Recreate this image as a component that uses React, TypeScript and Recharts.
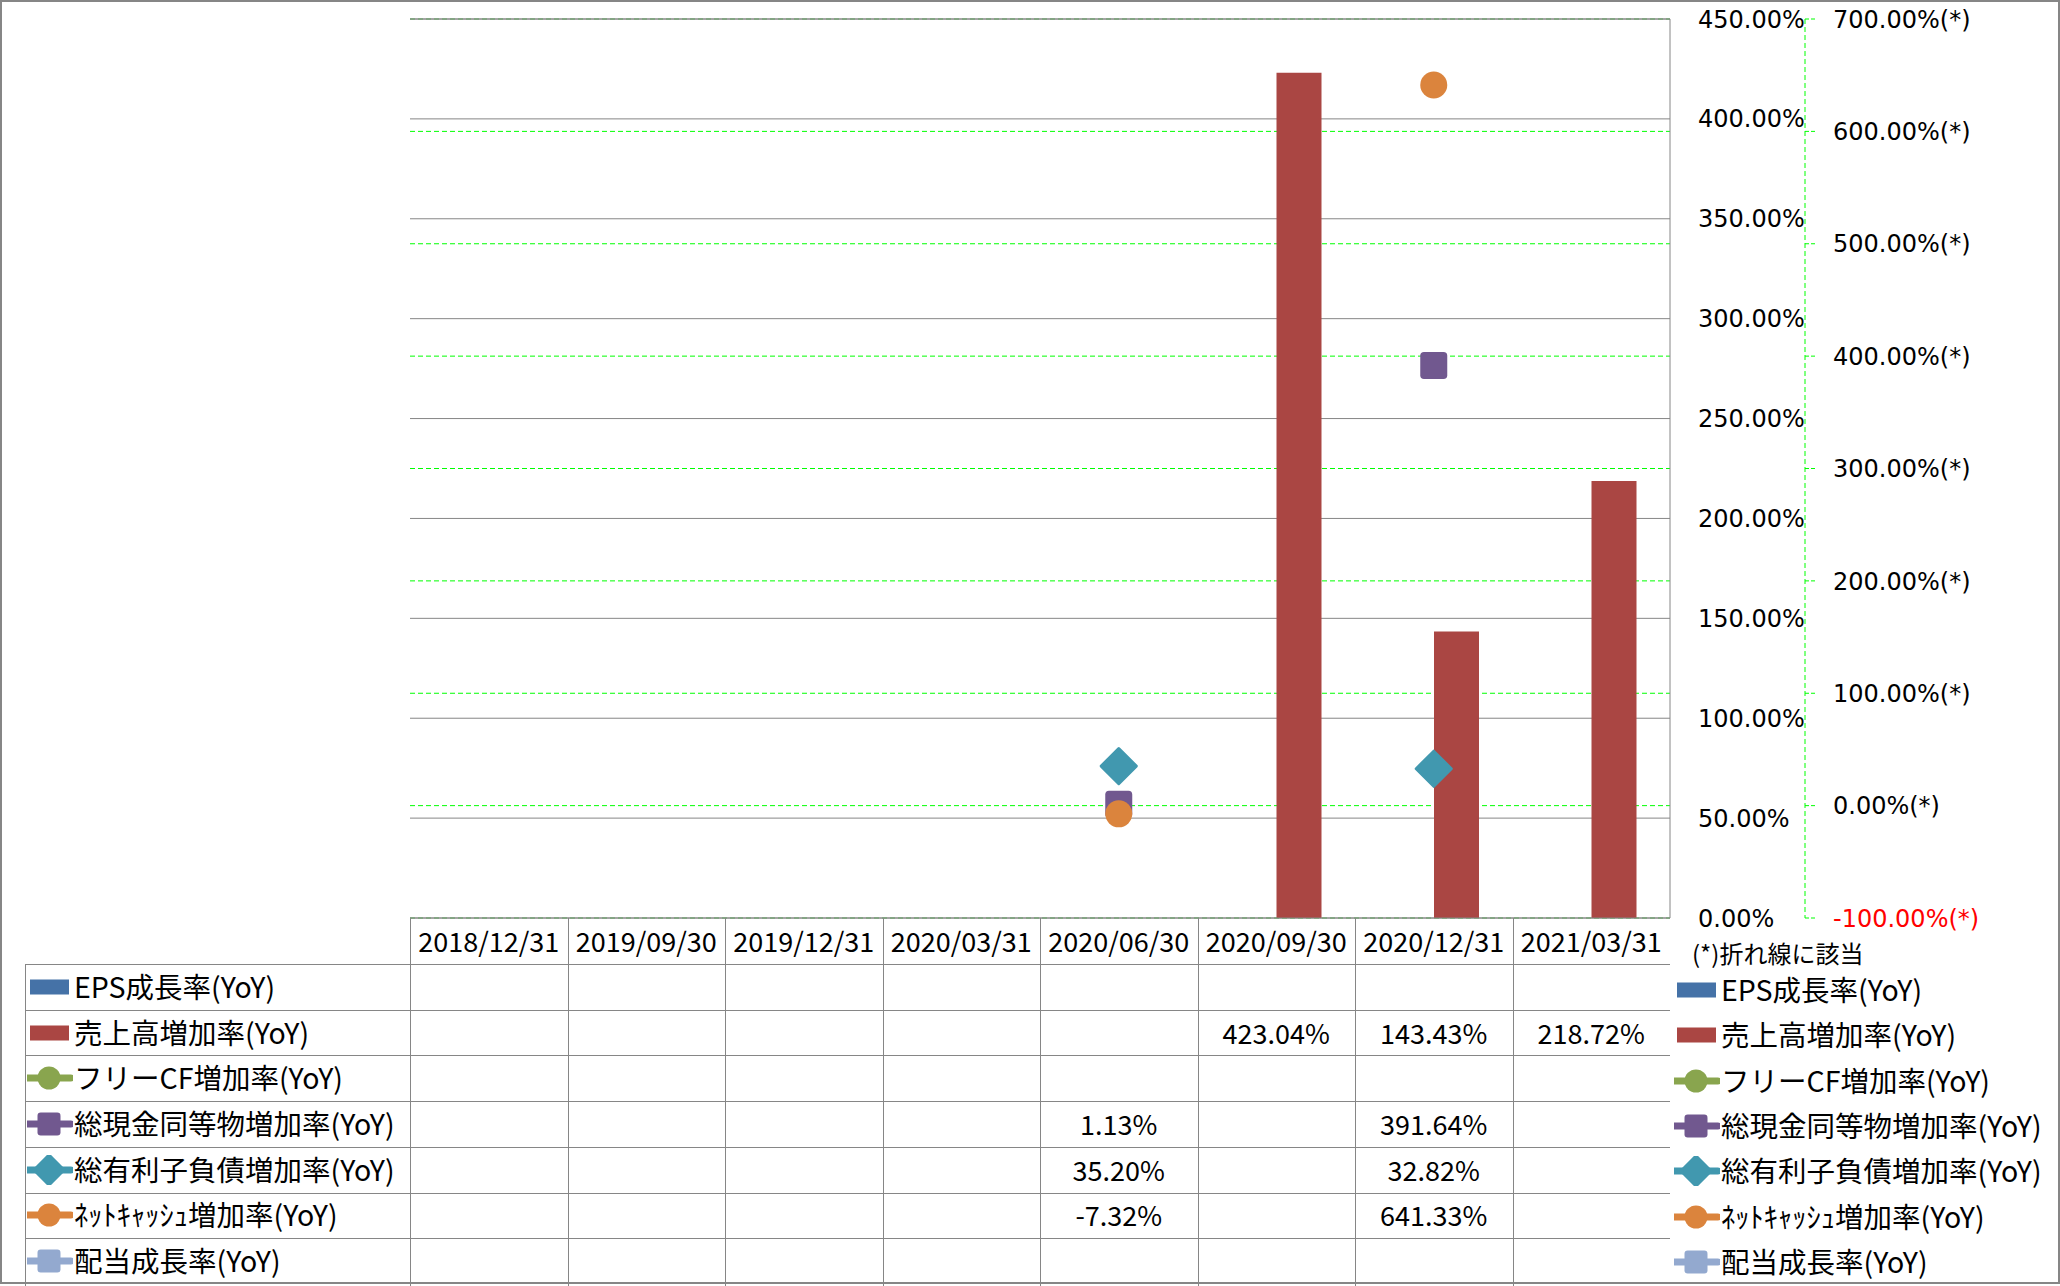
import React from "react";
import { ComposedChart, Bar, Line, XAxis, YAxis, CartesianGrid, ReferenceLine } from "recharts";

const dates = [
  "2018/12/31",
  "2019/09/30",
  "2019/12/31",
  "2020/03/31",
  "2020/06/30",
  "2020/09/30",
  "2020/12/31",
  "2021/03/31",
];

// YoY growth rates (%), null = no data
const epsGrowth = [null, null, null, null, null, null, null, null];
const salesGrowth = [null, null, null, null, null, 423.04, 143.43, 218.72];
const fcfGrowth = [null, null, null, null, null, null, null, null];
const cashGrowth = [null, null, null, null, 1.13, null, 391.64, null];
const debtGrowth = [null, null, null, null, 35.2, null, 32.82, null];
const netCashGrowth = [null, null, null, null, -7.32, null, 641.33, null];
const dividendGrowth = [null, null, null, null, null, null, null, null];

const leftTicks = [0, 50, 100, 150, 200, 250, 300, 350, 400, 450];
const rightTicks = [-100, 0, 100, 200, 300, 400, 500, 600, 700];

type Shape = "bar" | "circle" | "square" | "diamond";

const series: { key: string; name: string; color: string; shape: Shape; values: (number | null)[] }[] = [
  { key: "eps", name: "EPS成長率(YoY)", color: "#4572A7", shape: "bar", values: epsGrowth },
  { key: "sales", name: "売上高増加率(YoY)", color: "#AA4643", shape: "bar", values: salesGrowth },
  { key: "fcf", name: "フリーCF増加率(YoY)", color: "#89A54E", shape: "circle", values: fcfGrowth },
  { key: "cash", name: "総現金同等物増加率(YoY)", color: "#71588F", shape: "square", values: cashGrowth },
  { key: "debt", name: "総有利子負債増加率(YoY)", color: "#4198AF", shape: "diamond", values: debtGrowth },
  { key: "netcash", name: "ﾈｯﾄｷｬｯｼｭ増加率(YoY)", color: "#DB843D", shape: "circle", values: netCashGrowth },
  { key: "div", name: "配当成長率(YoY)", color: "#93A9CF", shape: "square", values: dividendGrowth },
];

const data = dates.map((date, i) => {
  const row: Record<string, any> = { date };
  series.forEach((s) => (row[s.key] = s.values[i]));
  return row;
});

const W = 2060;
const H = 1286;
const PLOT_L = 410;
const PLOT_R = 1670;
const PLOT_T = 19;
const PLOT_B = 918;
const COL_W = (PLOT_R - PLOT_L) / dates.length;
const HEAD_B = 964;
const ROW_H = 45.7;
const GRID = "#868686";
const GREEN = "#00FF00";
const AXIS_FONT = "'DejaVu Sans', sans-serif";
const TABLE_FONT = "'Noto Sans CJK JP', sans-serif";

function MarkerShape({ shape, color, cx, cy, size }: { shape: Shape; color: string; cx: number; cy: number; size: number }) {
  const h = size / 2;
  if (shape === "circle") return <circle cx={cx} cy={cy} r={h} fill={color} />;
  if (shape === "square")
    return <rect x={cx - h} y={cy - h} width={size} height={size} rx={size * 0.14} fill={color} />;
  if (shape === "diamond") {
    const d = h * 1.3;
    return (
      <polygon
        points={`${cx},${cy - d} ${cx + d},${cy} ${cx},${cy + d} ${cx - d},${cy}`}
        fill={color}
        stroke={color}
        strokeWidth={3}
        strokeLinejoin="round"
      />
    );
  }
  return null;
}

function LegendSymbol({ s }: { s: (typeof series)[number] }) {
  return (
    <svg width={46} height={30} style={{ display: "block" }}>
      {s.shape === "bar" ? (
        <rect x={3} y={7.5} width={39} height={15} fill={s.color} />
      ) : (
        <>
          <line x1={0} y1={15} x2={44} y2={15} stroke={s.color} strokeWidth={7} strokeLinecap="round" />
          <MarkerShape shape={s.shape} color={s.color} cx={22} cy={15} size={23} />
        </>
      )}
    </svg>
  );
}

const XTick = (props: any) => {
  const { x, payload } = props;
  return (
    <text x={x} y={PLOT_B + 22} textAnchor="middle" dominantBaseline="central" fontFamily={TABLE_FONT} fontSize={27} fill="#000">
      {payload.value}
    </text>
  );
};

const RightTick = (props: any) => {
  const { x, y, payload } = props;
  const v = payload.value as number;
  return (
    <text x={x} y={y} dy="0.36em" textAnchor="start" fontFamily={AXIS_FONT} fontSize={24} fill={v < 0 ? "#FF0000" : "#000"}>
      {v.toFixed(2)}%(*)
    </text>
  );
};

const makeDot = (s: (typeof series)[number]) => (props: any) => {
  const { cx, cy, value, index } = props;
  if (value == null || cy == null || isNaN(cy)) return <g key={`${s.key}-${index}`} />;
  return (
    <g key={`${s.key}-${index}`}>
      <MarkerShape shape={s.shape} color={s.color} cx={cx} cy={cy} size={27} />
    </g>
  );
};

const labelStyle: React.CSSProperties = {
  position: "absolute",
  height: 40,
  lineHeight: "40px",
  fontFamily: TABLE_FONT,
  fontSize: 28.5,
  whiteSpace: "nowrap",
};

export default function App() {
  const fmt = (v: number | null) => (v == null ? "" : `${v.toFixed(2)}%`);
  return (
    <div style={{ position: "relative", width: W, height: H, background: "#fff", overflow: "hidden" }}>
      <style>{`body{margin:0}`}</style>
      <div style={{ position: "absolute", left: 0, top: 0 }}>
        <ComposedChart
          width={W}
          height={PLOT_B + 47}
          data={data}
          margin={{ top: PLOT_T, right: 0, left: PLOT_L, bottom: 0 }}
          barGap={0}
        >
          <CartesianGrid yAxisId="right" vertical={false} stroke={GREEN} strokeDasharray="5 3" />
          <CartesianGrid yAxisId="left" vertical={false} stroke={GRID} />
          <XAxis dataKey="date" height={47} interval={0} tickLine={false} axisLine={{ stroke: GRID }} tick={<XTick />} />
          <YAxis
            yAxisId="left"
            orientation="right"
            domain={[0, 450]}
            ticks={leftTicks}
            interval={0}
            width={135}
            axisLine={{ stroke: GRID }}
            tickLine={false}
            tickSize={0}
            tickMargin={28}
            tickFormatter={(v: number) => `${v.toFixed(2)}%`}
            tick={{ fontFamily: AXIS_FONT, fontSize: 24, fill: "#000" }}
          />
          <YAxis
            yAxisId="right"
            orientation="right"
            domain={[-100, 700]}
            ticks={rightTicks}
            interval={0}
            width={255}
            axisLine={{ stroke: GREEN, strokeDasharray: "5 3" }}
            tickLine={{ stroke: GREEN, strokeDasharray: "4 2" }}
            tickSize={10}
            tickMargin={18}
            tick={<RightTick />}
          />
          <ReferenceLine yAxisId="left" y={450} stroke={GRID} />
          {series
            .filter((s) => s.shape === "bar")
            .map((s) => (
              <Bar key={s.key} dataKey={s.key} name={s.name} yAxisId="left" fill={s.color} barSize={45} isAnimationActive={false} />
            ))}
          {series
            .filter((s) => s.shape !== "bar")
            .map((s) => (
              <Line
                key={s.key}
                dataKey={s.key}
                name={s.name}
                yAxisId="right"
                stroke={s.color}
                strokeWidth={5}
                dot={makeDot(s)}
                activeDot={false}
                connectNulls={false}
                isAnimationActive={false}
              />
            ))}
        </ComposedChart>
      </div>

      {/* data table grid */}
      {dates.map((_, i) => (
        <div key={`v${i}`} style={{ position: "absolute", left: PLOT_L + COL_W * i, top: PLOT_B, width: 1, height: H - PLOT_B, background: GRID }} />
      ))}
      <div style={{ position: "absolute", left: 25, top: HEAD_B, width: 1, height: H - HEAD_B, background: GRID }} />
      {series.map((_, r) => (
        <div key={`h${r}`} style={{ position: "absolute", left: 25, top: HEAD_B + ROW_H * r, width: PLOT_R - 25, height: 1, background: GRID }} />
      ))}

      {/* table row labels and values */}
      {series.map((s, r) => {
        const cy = HEAD_B + ROW_H * r + ROW_H / 2;
        return (
          <React.Fragment key={s.key}>
            <div style={{ position: "absolute", left: 27, top: cy - 15 }}>
              <LegendSymbol s={s} />
            </div>
            <div style={{ ...labelStyle, left: 74, top: cy - 21 }}>{s.name}</div>
            {s.values.map((v, i) => (
              <div
                key={i}
                style={{
                  position: "absolute",
                  left: PLOT_L + COL_W * i,
                  width: COL_W,
                  top: cy - 20,
                  height: 40,
                  lineHeight: "40px",
                  textAlign: "center",
                  fontFamily: TABLE_FONT,
                  fontSize: 27,
                }}
              >
                {fmt(v)}
              </div>
            ))}
          </React.Fragment>
        );
      })}

      {/* right legend */}
      <div style={{ position: "absolute", left: 1692, top: 953 - 17, height: 34, lineHeight: "34px", fontFamily: TABLE_FONT, fontSize: 24, whiteSpace: "nowrap" }}>
        (*)折れ線に該当
      </div>
      {series.map((s, r) => {
        const cy = 990 + 45.3 * r;
        return (
          <React.Fragment key={`lg-${s.key}`}>
            <div style={{ position: "absolute", left: 1674, top: cy - 15 }}>
              <LegendSymbol s={s} />
            </div>
            <div style={{ ...labelStyle, left: 1721, top: cy - 21 }}>{s.name}</div>
          </React.Fragment>
        );
      })}

      <div style={{ position: "absolute", left: 0, top: 0, width: W, height: H - 2, border: `2px solid ${GRID}`, boxSizing: "border-box", pointerEvents: "none" }} />
    </div>
  );
}
